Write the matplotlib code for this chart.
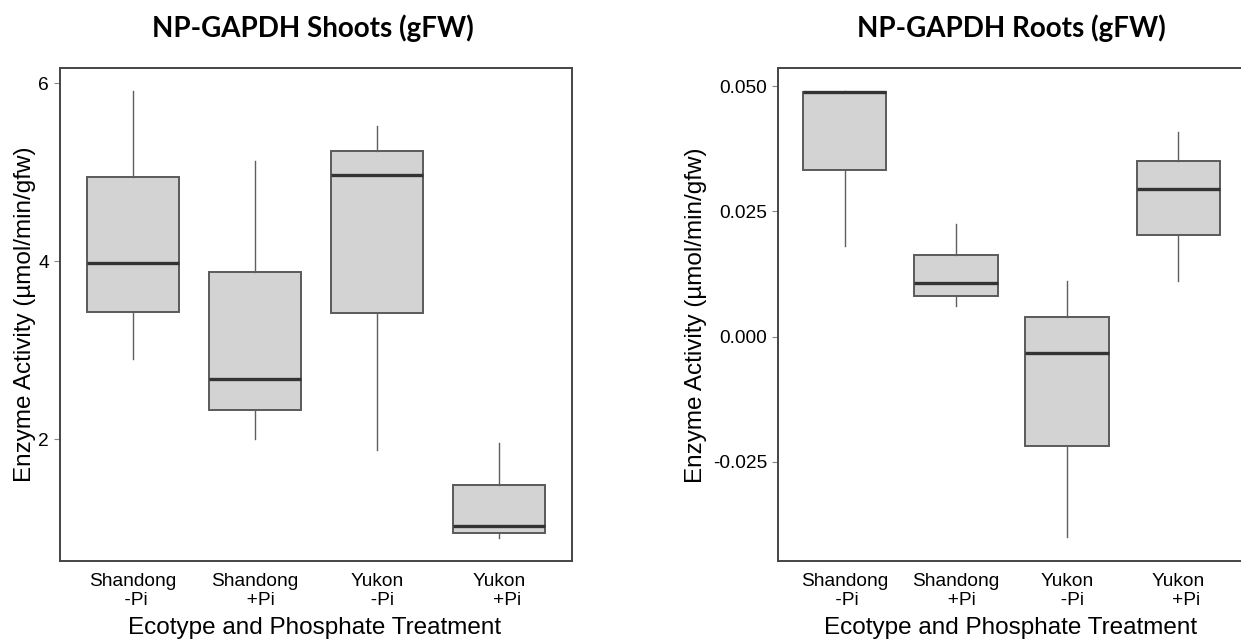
import matplotlib
matplotlib.use("Agg")
import matplotlib.pyplot as plt

groups = ["Shandong\n -Pi", "Shandong\n  +Pi", "Yukon\n  -Pi", "Yukon\n   +Pi"]

# shoots (gFW)
sh_lo = [2.90, 2.00, 1.88, 0.89]
sh_q1 = [3.43, 2.33, 3.42, 0.95]
sh_med = [3.98, 2.67, 4.97, 1.02]
sh_q3 = [4.95, 3.88, 5.24, 1.48]
sh_hi = [5.91, 5.12, 5.52, 1.96]
sh_ticks = [2, 4, 6]
sh_ticklabels = ["2", "4", "6"]

# roots (gFW)
rt_lo = [0.0181, 0.0060, -0.0401, 0.0110]
rt_q1 = [0.0333, 0.0080, -0.0218, 0.0203]
rt_med = [0.0488, 0.0106, -0.0032, 0.0295]
rt_q3 = [0.0488, 0.0163, 0.0039, 0.0351]
rt_hi = [0.0490, 0.0224, 0.0110, 0.0408]
rt_ticks = [-0.025, 0.0, 0.025, 0.050]
rt_ticklabels = ["-0.025", "0.000", "0.025", "0.050"]

W, H = 1241, 640
fig = plt.figure(figsize=(W / 100, H / 100), dpi=100)
plt.rcParams['font.family'] = ['Liberation Sans', 'DejaVu Sans']


def stats(lo, q1, med, q3, hi):
    return [dict(whislo=a, q1=b, med=c, q3=d, whishi=e, fliers=[])
            for a, b, c, d, e in zip(lo, q1, med, q3, hi)]


def panel(rect, st, ylim, ticks, ticklabels):
    ax = fig.add_axes(rect)
    ax.bxp(st, positions=[1, 2, 3, 4], widths=0.75, patch_artist=True,
           showcaps=False,
           boxprops=dict(facecolor="#d3d3d3", edgecolor="#5a5a5a", linewidth=1.4),
           medianprops=dict(color="#333333", linewidth=2.4),
           whiskerprops=dict(color="#5f5f5f", linewidth=1.0))
    ax.set_xlim(0.4, 4.6)
    ax.set_ylim(*ylim)
    ax.set_xticks([1, 2, 3, 4])
    ax.set_xticklabels(groups, fontsize=13.8)
    ax.set_yticks(ticks)
    ax.set_yticklabels(ticklabels, fontsize=13.8)
    ax.tick_params(axis="x", length=0, pad=8.5)
    ax.tick_params(axis="y", length=4, width=0.8, color="#888888", pad=4)
    for s in ax.spines.values():
        s.set_color("#444444")
        s.set_linewidth(1.4)
    return ax


bottom = (H - 561) / H
height = 493 / H
panel([60 / W, bottom, 512 / W, height],
      stats(sh_lo, sh_q1, sh_med, sh_q3, sh_hi), (0.63, 6.17),
      sh_ticks, sh_ticklabels)
panel([778 / W, bottom, 467 / W, height],
      stats(rt_lo, rt_q1, rt_med, rt_q3, rt_hi), (-0.0448, 0.0536),
      rt_ticks, rt_ticklabels)

# titles
fig.text(313 / W, 1 - 28 / H, "NP-GAPDH Shoots (gFW)", ha="center", va="center",
         fontsize=20, fontweight="bold", family=["Lato", "DejaVu Sans"])
fig.text(1011 / W, 1 - 28 / H, "NP-GAPDH Roots (gFW)", ha="center", va="center",
         fontsize=20, fontweight="bold", family=["Lato", "DejaVu Sans"])

# axis labels
ylab = "Enzyme Activity (\u00b5mol/min/gfw)"
xlab = "Ecotype and Phosphate Treatment"
fig.text(25 / W, 1 - 314 / H, ylab, rotation=90, ha="center", va="center", fontsize=17.5)
fig.text(696 / W, 1 - 315 / H, ylab, rotation=90, ha="center", va="center", fontsize=17.5)
fig.text(315 / W, 1 - 628 / H, xlab, ha="center", va="center", fontsize=17.5)
fig.text(1011 / W, 1 - 628 / H, xlab, ha="center", va="center", fontsize=17.5)

fig.savefig("out.png", dpi=100)
